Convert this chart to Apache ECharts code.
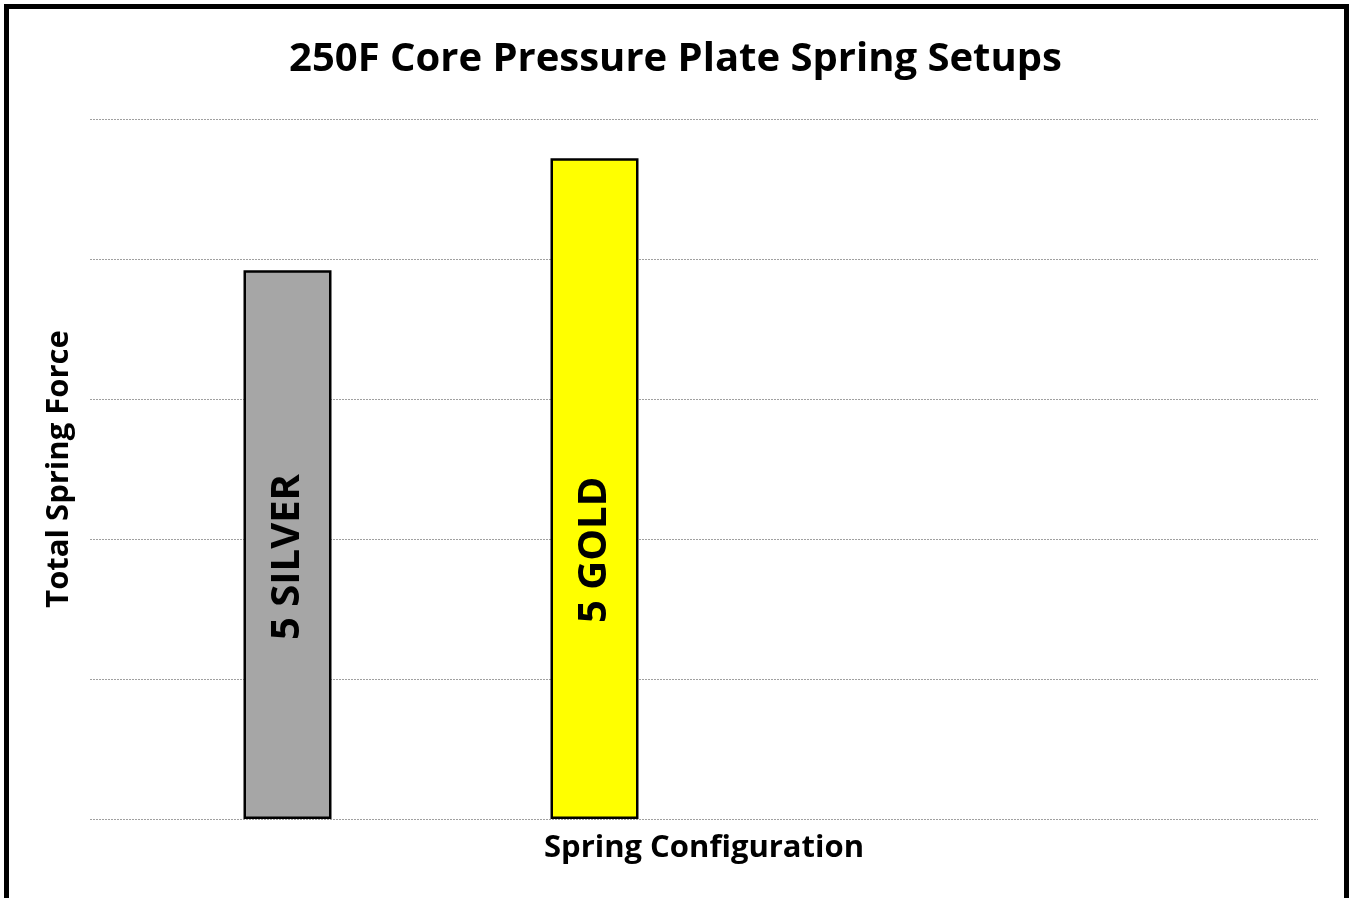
<!DOCTYPE html>
<html>
<head>
<meta charset="utf-8">
<script src="https://cdn.jsdelivr.net/npm/echarts@6/dist/echarts.min.js"></script>
<style>
	html, body { margin: 0; padding: 0; background: #fff; overflow: hidden; }
	#chart { position: absolute; left: 0; top: 0; width: 1351px; height: 898px; }
	#frame { position: absolute; left: 4px; top: 4px; width: 1345px; height: 1000px;
		border: 5px solid #000; box-sizing: border-box; pointer-events: none; }
</style>
</head>
<body>
<div id="chart"></div>
<div id="frame"></div>
<script>
// four category slots, only the first two used (as in the original sheet)
var categories = ['', '', '', ''];
var springNames = ['5 SILVER', '5 GOLD'];
var springForce = [3.92, 4.72];
var barColors = ['#A6A6A6', '#FFFF00'];
var labelGaps = [179, 196];
var yTicks = [0, 1, 2, 3, 4, 5];

var font = '"Open Sans", Lato, sans-serif';

var chart = echarts.init(document.getElementById('chart'));

var forceData = categories.map(function (c, i) {
	if (i >= springForce.length) return '-';
	return {
		value : springForce[i],
		itemStyle : { color : barColors[i] },
		label : { formatter : springNames[i], distance : labelGaps[i] }
	};
});

var option = {
	animation : false,
	title : {
		text : '250F Core Pressure Plate Spring Setups',
		left : 'center',
		top : 35,
		textStyle : { fontFamily : font, fontWeight : 'bold', fontSize : 40, color : '#000' }
	},
	grid : { left : 90, right : 33, top : 119, bottom : 79 },
	xAxis : {
		type : 'category',
		data : categories,
		name : 'Spring Configuration',
		nameLocation : 'middle',
		nameGap : 14,
		nameTextStyle : { fontFamily : font, fontWeight : 'bold', fontSize : 31, color : '#000', verticalAlign : 'top' },
		axisLine : { show : false },
		axisTick : { show : false },
		axisLabel : { show : false }
	},
	yAxis : {
		type : 'value',
		min : yTicks[0],
		max : yTicks[yTicks.length - 1],
		interval : 1,
		name : 'Total Spring Force',
		nameLocation : 'middle',
		nameGap : 15,
		nameTextStyle : { fontFamily : font, fontWeight : 'bold', fontSize : 31, color : '#000' },
		axisLine : { show : false },
		axisTick : { show : false },
		axisLabel : { show : false },
		splitLine : { lineStyle : { color : '#A0A0A0', type : [2, 1], width : 1 } }
	},
	series : [{
		type : 'bar',
		data : categories.map(function () { return '-'; }),
		barWidth : 88,
		barGap : '0%'
	}, {
		type : 'bar',
		data : forceData,
		barWidth : 88,
		barGap : '0%',
		itemStyle : { borderColor : '#000', borderWidth : 2.5 },
		label : {
			show : true,
			position : 'insideBottom',
			rotate : 90,
			align : 'left',
			verticalAlign : 'middle',
			fontFamily : font,
			fontWeight : 'bold',
			fontSize : 40,
			color : '#000'
		}
	}]
};

chart.setOption(option);
window.onresize = chart.resize;
</script>
</body>
</html>
